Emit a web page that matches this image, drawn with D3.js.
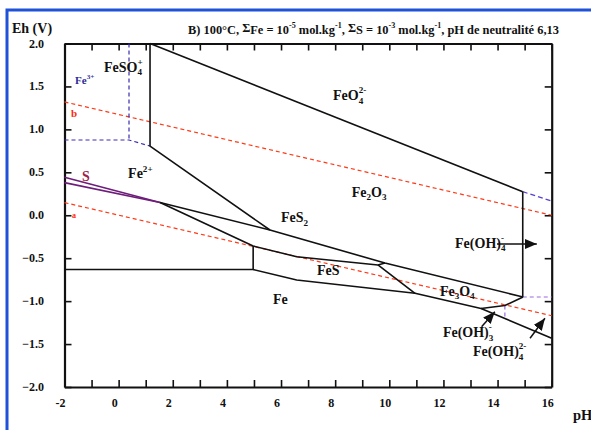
<!DOCTYPE html>
<html><head><meta charset="utf-8">
<script src="https://cdn.jsdelivr.net/npm/d3@7"></script>
<style>
body{margin:0;background:#fff}
svg{display:block}
text{font-family:"Liberation Serif","Times New Roman",serif;font-weight:bold}
</style>
</head><body>
<svg id="chart" width="591" height="430"></svg>
<script>
// ---------- data ----------
const xMinorTicks = [-2,-1,0,1,2,3,4,5,6,7,8,9,10,11,12,13,14,15,16];
const xTickLabels = [-2,0,2,4,6,8,10,12,14,16];
const yTickLabels = [-2,-1.5,-1,-0.5,0,0.5,1,1.5,2];

// solid stability-field boundaries [pH, Eh]
const lineFeO4Fe2O3 = [[1.16,2.0],[14.93,0.274]];
const lineFe2Fe2O3  = [[1.16,2.0],[1.16,0.806],[5.59,-0.172]];
const lineFeS2Upper = [[1.53,0.148],[5.59,-0.172],[9.84,-0.556],[14.94,-0.952]];
const lineFeS2Lower = [[1.53,0.148],[4.97,-0.358],[6.58,-0.483],[9.58,-0.579],[9.84,-0.556]];
const lineFe2Fe     = [[-2,-0.632],[4.97,-0.632],[4.97,-0.358]];
const lineFeLower   = [[4.97,-0.632],[6.58,-0.754],[10.95,-0.909],[13.39,-1.086],[16,-1.433]];
const lineFeSFe3O4  = [[9.58,-0.579],[10.95,-0.909]];
const lineFe3O4Low  = [[13.39,-1.086],[14.27,-1.051],[14.94,-0.952]];
const lineRightVert = [[14.93,0.274],[14.93,-0.952]];
// sulfur field (purple)
const lineSUpper = [[-2,0.443],[1.53,0.148]];
const lineSLower = [[-2,0.38],[1.53,0.148]];
// water stability (red dashed)
const waterA = [[-2,0.147],[16,-1.17]];
const waterB = [[-2,1.32],[16,0.0]];
// dashed aqueous boundaries
const dashFe3Vert  = [[0.383,2.0],[0.383,0.876]];
const dashFe3Horiz = [[-2,0.876],[0.383,0.876],[1.16,0.806]];
const dashRightUp  = [[14.93,0.274],[16,0.166]];
const dashRightLow = [[14.93,-0.952],[16,-0.952]];
const dashFeOH3    = [[14.27,-1.051],[14.27,-1.19]];
// arrows [from, to]
const arrowFeOH4  = [[13.98,-0.335],[15.45,-0.335]];
const arrowFeOH3  = [[13.41,-1.298],[13.90,-1.123]];
const arrowFeOH42 = [[15.20,-1.433],[15.75,-1.20]];

// labels: parts [text, kind], anchor [pH, Eh]
const labelNames = [
  {parts:[["FeSO",""],["4","sub"],["+","stack"]], at:[-0.54,1.672], color:"#111", size:14},
  {parts:[["Fe",""],["3+","sup"]], at:[-1.61,1.528], color:"#2a2a9a", size:11},
  {parts:[["b",""]], at:[-1.76,1.144], color:"#ff2a10", size:11},
  {parts:[["a",""]], at:[-1.72,-0.03], color:"#ff2a10", size:8},
  {parts:[["S",""]], at:[-1.35,0.40], color:"#a0204a", size:14},
  {parts:[["Fe",""],["2+","sup"]], at:[0.35,0.434], color:"#111", size:14},
  {parts:[["FeO",""],["4","sub"],["2-","stack"]], at:[7.92,1.34], color:"#111", size:14},
  {parts:[["Fe",""],["2","sub"],["O",""],["3","sub"]], at:[8.61,0.213], color:"#111", size:14},
  {parts:[["FeS",""],["2","sub"]], at:[6.0,-0.08], color:"#111", size:14},
  {parts:[["FeS",""]], at:[7.33,-0.696], color:"#111", size:14},
  {parts:[["Fe",""]], at:[5.70,-1.03], color:"#111", size:14},
  {parts:[["Fe",""],["3","sub"],["O",""],["4","sub"]], at:[11.87,-0.94], color:"#111", size:14},
  {parts:[["Fe(OH)",""],["4","sub"],["-","stack"]], at:[12.43,-0.38], color:"#111", size:14},
  {parts:[["Fe(OH)",""],["3","sub"],["-","stack"]], at:[11.98,-1.418], color:"#111", size:14},
  {parts:[["Fe(OH)",""],["4","sub"],["2-","stack"]], at:[13.09,-1.64], color:"#111", size:14}
];

const titleParts = [["B) 100°C, ",""],["Σ","sig"],["Fe = 10",""],["-5","sup"],[" mol.kg",""],["-1","sup"],[", ",""],["Σ","sig"],["S  = 10",""],["-3","sup"],[" mol.kg",""],["-1","sup"],[", pH de neutralité 6,13",""]];

// ---------- drawing ----------
const svg = d3.select("#chart");
const x = d3.scaleLinear().domain([-2,16]).range([64.5,551.7]);
const y = d3.scaleLinear().domain([-2,2]).range([387,43.5]);
const line = d3.line().x(d=>x(d[0])).y(d=>y(d[1]));

// blue frame
svg.append("rect").attr("x",7).attr("y",10).attr("width",700).attr("height",600)
  .attr("fill","none").attr("stroke","#1f52d8").attr("stroke-width",3);

const defs = svg.append("defs");
defs.append("marker").attr("id","ah").attr("viewBox","0 0 12 10")
  .attr("refX",12).attr("refY",5).attr("markerWidth",12).attr("markerHeight",10)
  .attr("markerUnits","userSpaceOnUse").attr("orient","auto")
  .append("path").attr("d","M0,0L12,5L0,10Z").attr("fill","#111");

// axes
const axB = svg.append("g").attr("transform",`translate(0,${y(-2)})`)
  .call(d3.axisBottom(x).tickValues(xMinorTicks).tickSizeInner(-7).tickSizeOuter(0).tickFormat(""));
const axT = svg.append("g").attr("transform",`translate(0,${y(2)})`)
  .call(d3.axisTop(x).tickValues(xMinorTicks).tickSizeInner(-7).tickSizeOuter(0).tickFormat(""));
const axL = svg.append("g").attr("transform",`translate(${x(-2)},0)`)
  .call(d3.axisLeft(y).tickValues(yTickLabels).tickSizeInner(-7).tickSizeOuter(0).tickFormat(""));
const axR = svg.append("g").attr("transform",`translate(${x(16)},0)`)
  .call(d3.axisRight(y).tickValues(yTickLabels).tickSizeInner(-7).tickSizeOuter(0).tickFormat(""));
[axB,axT,axL,axR].forEach(a=>{
  a.select(".domain").attr("stroke","#111").attr("stroke-width",2.2);
  a.selectAll(".tick line").attr("stroke","#111").attr("stroke-width",1.6);
});

// tick labels
svg.append("g").selectAll("text").data(xTickLabels).join("text")
  .attr("x",d=>x(d)-4).attr("y",407).attr("text-anchor","middle")
  .attr("font-size",12).attr("fill","#111").text(d=>d);
svg.append("g").selectAll("text").data(yTickLabels).join("text")
  .attr("x",44).attr("y",d=>y(d)+4).attr("text-anchor","end")
  .attr("font-size",12).attr("fill","#111").text(d=>d3.format(".1f")(d));

svg.append("text").attr("x",12).attr("y",33).attr("font-size",14).attr("fill","#111").text("Eh (V)");
svg.append("text").attr("x",573).attr("y",420).attr("font-size",14.5).attr("fill","#111").text("pH");

// water lines
[waterA,waterB].forEach(d=>svg.append("path").attr("d",line(d)).attr("fill","none")
  .attr("stroke","#ff3a18").attr("stroke-width",1.2).attr("stroke-dasharray","4,3"));

// dashed aqueous
[dashFe3Vert,dashFe3Horiz].forEach(d=>svg.append("path").attr("d",line(d)).attr("fill","none")
  .attr("stroke","#3a2cb0").attr("stroke-width",1.2).attr("stroke-dasharray","4,3"));
svg.append("path").attr("d",line(dashRightUp)).attr("fill","none")
  .attr("stroke","#5a3ed0").attr("stroke-width",1.3).attr("stroke-dasharray","5,3");
[dashRightLow,dashFeOH3].forEach(d=>svg.append("path").attr("d",line(d)).attr("fill","none")
  .attr("stroke","#9b6be0").attr("stroke-width",1.2).attr("stroke-dasharray","4,3"));

// sulfur
[lineSUpper,lineSLower].forEach(d=>svg.append("path").attr("d",line(d)).attr("fill","none")
  .attr("stroke","#6e1e7a").attr("stroke-width",1.6));

// solid boundaries
[lineFeO4Fe2O3,lineFe2Fe2O3,lineFeS2Upper,lineFeS2Lower,lineFe2Fe,lineFeLower,lineFeSFe3O4,lineFe3O4Low,lineRightVert]
  .forEach(d=>svg.append("path").attr("d",line(d)).attr("fill","none")
    .attr("stroke","#111").attr("stroke-width",1.6).attr("stroke-linejoin","round"));

// arrows
[arrowFeOH4,arrowFeOH3,arrowFeOH42].forEach(d=>svg.append("path").attr("d",line(d))
  .attr("fill","none").attr("stroke","#111").attr("stroke-width",1.5).attr("marker-end","url(#ah)"));

// rich text helper
function rich(sel, parts, size){
  let shift = 0;
  let prev = null;
  parts.forEach(([t,k])=>{
    const ts = sel.append("tspan").text(t);
    let target = 0, fs = size, dx = 0;
    if(k==="sub"){ target = size*0.25; fs = size*0.65; }
    else if(k==="sup"){ target = -size*0.45; fs = size*0.65; }
    else if(k==="stack"){ target = -size*0.5; fs = size*0.65; dx = prev ? -prev.node().getComputedTextLength() : 0; }
    else if(k==="sig"){ target = -size*0.15; fs = size*1.0; }
    ts.attr("font-size",fs).attr("dy",target-shift);
    if(dx) ts.attr("dx",dx);
    shift = target;
    prev = ts;
  });
}

labelNames.forEach(l=>{
  const t = svg.append("text").attr("x",x(l.at[0])).attr("y",y(l.at[1]))
    .attr("fill",l.color).attr("font-size",l.size);
  rich(t,l.parts,l.size);
});

const title = svg.append("text").attr("x",188).attr("y",34).attr("font-size",12.4).attr("fill","#111");
rich(title,titleParts,12.4);
</script>
</body></html>
